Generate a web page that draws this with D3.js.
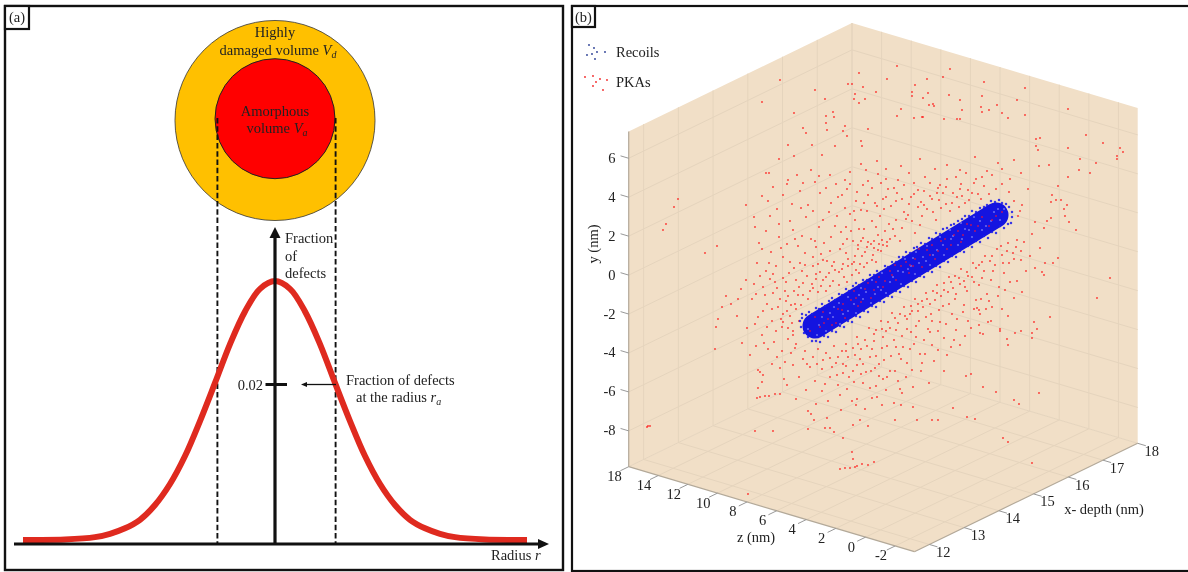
<!DOCTYPE html>
<html><head><meta charset="utf-8">
<script src="https://cdn.jsdelivr.net/npm/d3@7/dist/d3.min.js"></script>
<style>html,body{margin:0;padding:0;background:#fff}svg{display:block;filter:blur(.35px)}text{font-family:"Liberation Serif",serif;font-size:14.5px;fill:#222}</style>
</head><body><svg id="c" width="1188" height="572"></svg>
<script>
// Panel (a): defect fraction versus radius (r in units of the curve's width)
const curveRadius=[-4.2,-4,-3.5,-3,-2.75,-2.5,-2.25,-2,-1.75,-1.5,-1.25,-1,-.75,-.5,-.25,0,.25,.5,.75,1,1.25,1.5,1.75,2,2.25,2.5,2.75,3,3.5,4,4.2];
const curveFraction=[0,.00001,.00007,.00037,.0008,.0015,.0026,.0045,.0072,.0108,.0153,.0202,.0252,.0294,.0323,.0333,.0323,.0294,.0252,.0202,.0153,.0108,.0072,.0045,.0026,.0015,.0008,.00037,.00007,.00001,0];
const amorphousRadius=1;
const damagedRadius=1.667;
const guideRadii=[-.96,1.01];
// Panel (b): axis ticks
const yTicks=[6,4,2,0,-2,-4,-6,-8];
const zTicks=[16,14,12,10,8,6,4,2,0,-2];
const zTickLabels=["18","14","12","10","8","6","4","2","0","-2"];
const xTicks=[12,13,14,15,16,17,18];
// Recoil track centre line, in projected view coordinates
const recoilTrack=[[-3.7,-5.1],[14.4,6]];
// Legend samples, same view coordinates
const legendRecoils=[[-26.3,23],[-25.8,22.7],[-25.5,22.3],[-24.7,22.3],[-26,22.1],[-26.5,22],[-25.7,21.6]];
const legendPkas=[[-26.7,19.8],[-25.9,19.9],[-25.2,19.6],[-24.5,19.5],[-25.6,19.3],[-25.9,18.9],[-24.9,18.5]];
// Recoils along the tube outline
const recoilEdge=[[-4.6,-4],[-4.3,-3.7],[-4,-3.9],[-3.6,-3.3],[-3.3,-3.4],[-3,-2.9],[-2.7,-3.1],[-2.3,-2.6],[-2,-2.3],[-1.7,-2.5],[-1.3,-1.9],[-1,-2],[-.6,-1.4],[-.3,-1.6],[.1,-1.1],[.4,-.8],[.7,-1],[1.1,-.5],[1.5,-.5],[1.8,0],[2.2,0],[2.5,.4],[2.9,.3],[3.3,.9],[3.6,.8],[4,1.3],[4.4,1.3],[4.7,1.8],[5.1,1.8],[5.4,2.3],[5.8,2.2],[6.2,2.7],[6.5,2.8],[6.9,3.2],[7.3,3.1],[7.7,3.7],[8,3.6],[8.4,4.2],[8.8,4.1],[9.1,4.6],[9.5,4.7],[9.9,5],[10.2,5.1],[10.6,5.4],[11,5.6],[11.3,5.9],[11.7,5.9],[12,6.4],[12.4,6.3],[12.8,6.7],[13.2,6.8],[13.5,7],[13.9,7.4],[14.3,7.3],[14.7,7.5],[15,7.2],[15.4,7.1],[15.7,6.8],[16,6.3],[16,5.8],[15.9,5.2],
[15.6,5.1],[15.2,4.7],[14.8,4.9],[14.4,4.2],[14,4.3],[13.6,3.7],[13.2,3.9],[12.8,3.3],[12.4,3.4],[12,2.8],[11.6,2.9],[11.2,2.3],[10.8,2.4],[10.4,1.8],[10,1.9],[9.6,1.3],[9.2,1.4],[8.8,.8],[8.4,.9],[8,.3],[7.6,.4],[7.2,-.2],[6.8,-.1],[6.4,-.7],[6,-.6],[5.6,-1.2],[5.2,-1.1],[4.8,-1.7],[4.4,-1.6],[4,-2.2],[3.6,-2.1],[3.2,-2.7],[2.8,-2.6],[2.4,-3.2],[2,-3.1],[1.6,-3.7],[1.2,-3.6],[.8,-4.2],[.4,-4.1],[0,-4.7],[-.4,-4.6],[-.8,-5.2],[-1.2,-5.1],[-1.6,-5.7],[-2,-5.6],[-2.4,-6.2],[-2.8,-6.1],[-3.2,-6.7],[-3.6,-6.6],[-4,-6.6],[-4.4,-6.2],[-4.8,-5.8],[-5.1,-5.2],[-5.2,-4.6],[-5,-4.3],[-5,-3.9]];
// Lighter recoils that show through the dense tube
const recoilLight=[[-3.5,-6],[-2.6,-5.6],[-1.9,-4.2],[-1.2,-4.9],[-.4,-3.6],[.4,-3.8],[1.1,-2.4],[1.9,-2.8],[2.6,-1.2],[3.4,-1.8],[4.1,-.2],[4.9,-.9],[5.6,.6],[6.3,.1],[7.1,1.8],[7.8,1],[8.5,2.5],[9.2,2],[9.9,3.6],[10.6,3],[11.3,4.6],[12,3.8],[12.8,5.4],[13.4,4.9],[14.2,6.3],[14.8,5.5],[15.2,6.6],[-4.4,-5.4],[-3,-4.2],[.9,-1.3],[3,.2],[5.3,1.6],[7.5,2.9],[9.8,4.5],[12.2,5.8],[-1.3,-2.8],[2,-.5],[6.4,2.3],[10.9,5.2],[-.4,-2.2],
[5.1,.3],[5.9,.9],[6.7,1.2],[7.4,1.4],[8.1,2],[3.8,-.7],[4.6,.4],[2.3,-1.9],[1.4,-1.7],[.2,-2.9],[-2.2,-3.8],[-3.3,-5],[9.1,3],[10.1,3.9],[11.7,4.5],[13,4.5],[13.9,5.4],[14.6,6.6],[-1.8,-3.2],[-.9,-3.9],[.7,-2],[2.9,-1.5],[6.1,1.7],[8.8,3.8],[11,3.6]];
// Primary knock-on atoms, projected view coordinates
const pkaPoints=[
[-7.2,19.5],[-3.7,18.5],[-.4,19.1],[0,19.1],[.7,20.2],[1.1,18.8],[.3,18.1],[.2,17.6],[1.3,17.6],[.7,17.2],[2.4,18.3],[-2.7,17.6],[-5.8,16.2],[-1.9,16.3],[-1.8,15.8],[-2.6,15.9],[-2.6,15.2],[-4.9,14.7],[-4.6,14.2],[-2.5,14.5],[-.7,14.9],[-.9,14.4],[-.5,13.9],[1.6,14.6],[.9,13.4],[1,12.9],
[-18.9,4.5],[-18.6,5.1],[-17.8,6.8],[-17.4,7.6],[-14.7,2.2],[-13.5,2.9],[-20.5,-15.2],[-20.2,-15.1],[-20.4,-15.1],[-10.4,-21.9],
[-9.5,-12.3],[-9.2,-12.2],[-8.7,-12.1],[-8.3,-12.1],[-7.7,-11.9],[-7.2,-11.9],[-9.4,-11.3],[-9,-10.7],[-9.4,-9.5],[-9.2,-9.7],[-13.7,-7.4],[-13.6,-5.2],[-13.4,-4.4],[-13,-3.2],[-12.1,-2.9],[-12.6,-2.1],[-11.4,-2.4],[-11.1,-1.4],[-10.6,-.5],[-9.8,-.9],
[-4.4,-13.6],[-4.1,-13.9],[-3.8,-14.5],[-2.5,-14.3],[-4.4,-15.4],[-2.7,-15.3],[-2.2,-15.3],[-1.8,-15.7],[-.9,-16.3],[-9.7,-15.6],[-7.9,-15.6],[0,-17.7],[.1,-18.4],[.3,-19.2],[-1.2,-19.4],[-.7,-19.3],[-.2,-19.3],[.5,-19.1],[1,-18.9],[1.6,-19],[2.2,-18.7],[.1,-15],[.8,-14.5],[1.6,-15.1],[-1.2,-12],[0,-12.6],[.5,-12.4],[2,-12.3],[2.5,-12.2],[1.8,-11.3],
[24.5,-2.3],[19.8,-4.2],[18.2,-4.7],[18.5,-5.4],[18,-5.8],[18,-6.3],[16.9,-5.6],[16.3,-5.8],[15.5,-6.4],[15.6,-7],[14.8,-5.4],[14.8,-5.6],[13.1,-5.9],[12.8,-5.8],[12.5,-3.3],[12.7,-3.5],[13.6,-4.7],[13.9,-4.6],[18.7,-11.8],[16.2,-12.5],[16.7,-12.9],[14.4,-11.7],[13.1,-11.2],[11.4,-10.1],[11.9,-9.9],[5,-11.8],[4.2,-12.8],[4.9,-13],[6.1,-13.2],[10.1,-13.3],[11.5,-14.2],[12.3,-14.4],[4.3,-14.5],[6.5,-14.5],[8,-14.5],[8.6,-14.5],[15.1,-16.3],[15.6,-16.7],[18,-18.8],
[4.5,20.9],[3.5,19.6],[7.5,19.6],[9.8,20.6],[9.1,19.8],[13.2,19.3],[17.3,18.7],[21.6,16.6],[16.5,17.5],[13,17.9],[10.8,17.5],[9.7,18],[7.6,18.2],[6.3,19],[6,18.3],[6,17.9],[7.1,17.7],[7.7,17],[8.1,17.1],[8.2,16.9],[4.9,16.6],[4.5,15.9],[7,15.8],[7.1,15.8],[6.2,15.7],[9.2,15.6],[10.5,15.6],[10.8,15.6],[12.9,16.8],[13.7,16.5],[13,16.3],[14.5,17],[15,16.2],[15.6,15.7],[17.3,16],[11,16.5],
[23.4,14],[25.1,13.2],[26.8,12.7],[27.1,12.3],[26.5,11.9],[26.5,11.6],[21.6,12.7],[22.8,11.6],[24.4,11.2],[22.7,10.5],[23.8,10.2],[21.6,9.8],[19.7,11],[18.7,10.9],[20.6,8.9],[18.4,13.6],[18.8,13.7],[18.4,12.9],[18.6,12.5],[20,8],[20.4,7.5],[20.9,7.5],[19.9,7.3],[21.2,6.6],[21.5,7],[21.3,5.9],[21.7,5.3],[22.4,4.5],[18.3,5.3],[19.5,5.4],[19.9,5.7],[19.2,4.7],[20.6,1.7],[19.3,1.2],[20.1,1.2],[18.3,.7],[19,.3],[19.2,0],[25.8,-.3],
[-9,17.3],[-6.4,13],[-4,13],[-1.7,12.9],[-3,12],[-5.8,11.9],[-7.3,11.6],[-8.6,10.2],[-8.3,10.2],[-6.4,9.5],[-4.1,10.5],[-2.2,10],[-3.7,9.3],[-.7,9.5],[-.2,10.3],[.9,11.1],[2.5,11.4],[1.4,10.5],[3.4,10.6],[4.9,10.9],[6.8,11.6],[8.3,10.6],[9.5,11],[7.3,9.8],[10.8,10.5],[12.3,11.8],[13.5,10.4],[14.6,11.2],[16.2,11.5],[16.9,10.2],[15.8,9.6],[17.6,8.6],[12.4,9.6],[10.4,9.8],[8.8,9],[6.2,9.2],[4.6,9.5],[2.9,9.2],[1.6,9.4],[-.5,8.6],[-3.2,8.2],[-5.2,8.4],[-6.9,8],[-8.4,7.4],[-10.6,7],[-9.8,5.8],[-7.5,6.6],[-6.2,5.4],[-4.4,7],[-2.1,7.2],
[-9.7,4.8],[-9.3,3.2],[-8.6,4.4],[-7.3,3.8],[-5.9,4.5],[-4.6,5.8],[-3.3,4.8],[-1.5,5.9],[.4,7.4],[1.6,8],[3.1,7.6],[4.5,8.2],[5.9,7.8],[7.2,8.4],[8.7,7.5],[10.1,8.2],[11.6,8.5],[13.2,8.9],[14.4,8.6],[15.7,8.3],[17,7],[16.6,5.9],[18,4.1],[17.2,3.3],[18.8,2.7],[16.4,2.8],[16.9,1.5],[15.7,1.2],[17.4,.4],[15.2,.2],
[-8.1,2.3],[-6.9,1.8],[-5.4,2.9],[-4.1,3.6],[-2.8,3.2],[-1.1,4.3],[.3,5.5],[1.5,6.4],[2.8,5.9],[3.9,6.9],[5.2,6.3],[6.6,6.8],[8.1,6.3],[9.4,7.1],[-9.5,1.2],[-8.6,.4],[-7.6,.9],[-6.3,.2],[-5.2,1.2],[-3.9,1.8],[-2.5,1.4],[-1.2,2.6],[.1,3.4],[1.2,4.6],[2.6,4],[3.7,5.1],[5,4.7],[6,5.4],[7,5.9],[-.5,3.6],
[-8.9,-1.2],[-7.7,-.7],[-6.7,-1.6],[-5.6,-.5],[-4.5,-.1],[-3.2,.3],[-2,.9],[-.9,1.1],[.3,1.9],[1.5,2.8],[2.6,2.5],[3.8,3.6],[-10,-2.4],[-8.5,-2.9],[-7.2,-2.4],[-6.1,-3],[-5.4,-2],[-4.2,-1.6],[-3.1,-1.1],[-1.9,-.6],[-.8,-.2],[.4,.5],[1.5,1.2],[-9.4,-4.2],[-8,-4.6],[-6.9,-3.9],[-6,-4.8],[-5.6,-3.4],[-7.6,-5.6],[-9,-6],[-6.4,-6.4],[-10.5,-5.3],[-11.5,-4.1],[-8.4,-7.4],[-7,-7.6],[-5.7,-7.3],[-10.2,-8],[-11,-6.8],
[-4.7,-7.6],[-3.9,-8.2],[-2.6,-7.8],[-1.8,-7.1],[-.6,-6.9],[.5,-6.2],[1.7,-5.3],[2.9,-4.6],[4,-3.8],[5.2,-3.2],[6.3,-2.4],[7.4,-1.8],[8.5,-1],[9.7,-.2],[10.9,.6],[12.1,1.2],[13.3,1.9],[14.5,2.6],[15.6,3.2],
[-4.2,-9.2],[-3,-9.4],[-1.6,-8.8],[-.4,-8.2],[.9,-7.4],[2.2,-6.6],[3.4,-5.6],[4.6,-4.8],[5.8,-3.9],[7.1,-3.2],[8.3,-2.5],[9.6,-1.7],[10.8,-.9],[12,-.2],[13.2,.4],[14.3,1],[-5.9,-9],[-7.2,-9.3],[-5.3,-10.2],[-3.7,-10.6],[-2.2,-10.2],[-.9,-9.8],[.5,-9],[1.8,-8.2],[3,-7.3],[4.2,-6.5],[5.5,-5.4],[6.7,-4.6],[7.9,-3.9],[9.1,-3.1],[10.3,-2.4],[11.5,-1.6],[12.7,-1],[13.9,-.5],
[-6.5,-11],[-4.6,-11.5],[-3,-11.6],[-1.4,-11],[.2,-10.7],[1.4,-9.7],[2.7,-8.9],[3.9,-8.1],[5.1,-7.2],[6.4,-6.2],[7.6,-5.4],[8.8,-4.7],[10,-3.9],[11.2,-3],[12.4,-2.5],[13.5,-1.9],[14.7,-1.2],[15.8,-.7],
[3.1,-10.4],[4.3,-9.6],[5.5,-8.8],[6.8,-7.9],[8,-7],[9.2,-6.3],[10.4,-5.5],[11.6,-4.6],[12.8,-3.9],[14,-3.2],[3.4,-11.5],[5.4,-10.2],[6.9,-9.6],[8.2,-8.6],[9.5,-8],[10.8,-7],[7.7,-10.8],[9.2,-9.6],[4.8,-11.4],[6.1,-11.2],
[-7.9,.1],[-6.6,-.7],[-5,.4],[-3.6,-.4],[-2.6,-.2],[-1.3,.3],[0,1.1],[1,1.9],[2.1,2],[3.1,3],[4.3,3.9],[-3.9,.9],[-2.2,2.4],[-.6,2.2],[.9,3.4],[2.2,3.4],[3.3,4.4],[4.4,5.5],[5.6,6],[6.9,7.3],[8,7.6],[9.1,8.2],[10.5,7.8],[11.7,7.5],[12.6,8.1],[-6.5,3.1],[-5,3.9],[-3.6,2.8],[-2.1,3.8],[-.6,4.8],[.7,4.6],[2,5.4],[3.2,6.6],[4.4,7.4],[5.7,7.1],[7.2,7],[8.6,8.7],[10,7.2],[11,7.9],[12.2,9.2],[-.2,6.1],[-1.4,7.8],[.9,6.5],[2.3,7.2],[3.6,8.6],
[-5.3,-4.6],[-5.9,-5.6],[-6.9,-4.7],[-5.6,-6.9],[-4.9,-8.4],[-3.4,-7.4],[-2.2,-8.3],[-1,-7.6],[.1,-7.3],[1.3,-6.5],[2.4,-5.5],[3.6,-4.7],[4.8,-3.9],[5.9,-3.1],[7,-2.6],[8.1,-1.6],[9.2,-.8],[10.3,-.1],[11.5,.3],[12.7,1],[13.8,1.4],[15,2],[16.1,2.2],[-.9,-8.9],[.8,-8.4],[2,-7.4],[3.1,-6.2],[4.4,-5.5],[5.5,-4.4],[6.6,-3.6],[7.8,-2.9],[8.9,-2.1],[10.1,-1.3],[11.2,-.6],
[.4,-13],[1.3,-13.4],[3,-13],[-.5,-11.4],[1.1,-10.8],[2.4,-11.1],[-2.4,-12.6],[-3.6,-12.9],[-5.6,-12.4],[-6.8,-10.4],[-8,-8.9],[-8.9,-10],[-1.1,-13.5],[1.9,-9.6],[3.8,-9.6],[4.9,-8.4]
];
// Further knock-ons in the dense cloud around the tube
const pkaDense=[
[-2.3,6.3],[-1.7,4.9],[-.9,3.1],[-.1,4.4],[.6,2.6],[1.1,3.7],[1.9,3.1],[2.4,4.8],[3,3.5],[3.5,2.9],[4.1,4.6],[4.8,3.4],[5.4,5.6],[6.3,4.2],[6.8,5],[7.5,6.6],[8.4,5.5],[8.9,6.7],[9.8,6.4],[10.7,6.8],[11.3,7.2],[12.9,7.6],[13.7,8.1],[15,9.1],[16.2,7.4],[16.8,6.4],[-3.1,2.1],[-3.7,3.4],[-4.7,2.2],[-5.7,3.6],[-6.2,1.3],[-7.1,2.7],[-8.3,1.2],[-9,2.6],[-2.9,5.5],[-3.9,6.4],[-5.1,6.7],[-6,7.1],[-7.3,5.1],[-8.2,5.9],[-9,7.9],[-7.9,8.8],[-6.5,9.1],[-5.5,10],[-4.9,9.2],[-3.3,9.9],[-2.6,8.7],[-1.6,9.1],[-1,8],[-.2,9.1],[.5,8.3],[1.1,9],[2,8.7],[2.6,10.1],[3.4,9.6],[4.2,8.7],[5.2,9],[5.7,10.2],[6.6,8.5],[7.8,9.2],[8.5,8.2],[9.5,9.6],[10.9,9.1],[11.4,10.2],[13,9.8],[14,10],[15,10.6],[-.7,6.7],[.2,6.4],[1.2,7.2],[2.5,6.9],[3.4,7.8],[5,7.6],[6.2,8.1],[7.8,7.9],[9.4,8.8],[10.8,8.6],[12,8.2],
[-7.5,-1.3],[-6.4,-2.1],[-5.3,-1.2],[-4.9,-.8],[-4,-.9],[-3.6,.1],[-2.9,-.5],[-2.3,.2],[-1.7,.5],[-1,.6],[-.4,.9],[.2,1.3],[.8,1.1],[1.3,2.3],[2.2,2.7],[2.9,2.4],[3.5,3.3],[-6.9,-.3],[-5.8,.7],[-4.7,1],[-3.4,1.1],[-2.9,1.5],[-1.8,1.3],[-.4,1.6],[.6,3],[1.6,3.3],[2.7,3.1],[-8.2,-.4],[-9.2,-.1],[-9.6,-1.9],[-8.7,-2],[-7.9,-1.8],[-7.4,-3.2],[-6.6,-2.6],[-5.8,-1.6],[-4.9,-2],[-4.4,-2.4],[-3.9,-1.3],[-3.4,-1.7],[-2.6,-1.6],[-2.2,-1.1],[-1.3,-1],[-.5,-.7],[0,0],[.7,.2],[1.2,.8],[2,1.5],[2.4,1.3],[-8.9,-3.6],[-8,-3.4],[-7.1,-4.4],[-6.5,-3.6],[-5.7,-2.9],[-5.1,-3],[-6.4,-5.3],[-7,-5.2],[-8.5,-5.2],[-7.8,-6.7],[-9.7,-4.9],[-8.8,-6.8],[-6.1,-7.8],[-7.5,-8.2],[-6.7,-8.7],[-9.6,-7.1],[-5.9,-6],[-6.2,-4.1],
[-3.5,-8.9],[-2.9,-8.5],[-2,-9.2],[-1.4,-8.2],[-.6,-7.6],[.3,-8],[.6,-6.9],[1.5,-7.1],[2.2,-5.9],[3,-5.4],[3.8,-5.3],[4.3,-4.3],[5.3,-4.1],[6,-3.6],[6.6,-2.9],[7.5,-2.4],[8.5,-1.8],[9.2,-1.5],[9.9,-.7],[10.7,-.3],[11.6,-.1],[12.4,.7],[13,1.3],[14,1.9],[14.9,2.9],[15.5,2.4],[16.5,3.5],[-4.5,-8.9],[-2.7,-10.9],[-1.5,-10],[-.6,-9.1],[.1,-9.6],[1.1,-8.9],[2.4,-8.1],[3.5,-7.1],[4.4,-7.2],[5,-6.1],[5.9,-5.7],[6.4,-5.1],[7.4,-4.2],[8,-4.6],[8.7,-3.5],[9.7,-2.9],[10.4,-1.9],[11.3,-1.2],[12.2,-.7],[13,-.3],[14.1,.4],[15.1,1.2],[16.2,1.6],[16.9,2.4],[17.8,1.9],[-.3,-10.2],[.9,-9.9],[2.3,-9.3],[3.2,-8.5],[4.7,-7.9],[5.8,-7.4],[6.2,-6.9],[7.2,-6.5],[7.8,-5.7],[8.6,-5.6],[9.4,-4.9],[10.5,-4.4],[11.1,-3.7],[12.2,-3.4],[12.9,-2.4],[13.7,-2.6],[14.6,-2.1],[15.3,-1.5],[16.5,-.6],[17,-1.7],[16.2,-2.3],[15,-3.4],[15.6,-4.1],[13.4,-3.4],[11.9,-5.3],[12.7,-5],[10.2,-6.5],[9.9,-7.2],[11.3,-6.1],[8.6,-7.5],[7.3,-7.9],[7,-8.8],[6,-9.5],[4.6,-10.6],[3.5,-10.2],[2.7,-10.1]
];
// Knock-ons seen through the tube
const pkaInTube=[[-4.2,-5.6],[-3.2,-5.2],[-2.9,-3.7],[-2,-5],[-1.4,-3.4],[-.7,-4.3],[-.1,-2.5],[.6,-3.1],[1.3,-1.4],[1.9,-2.3],[2.4,-.7],[3.1,-1.2],[3.8,.4],[4.4,-.5],[4.9,.9],[5.7,.2],[6.3,1.6],[7,.8],[7.5,2.5],[8.3,1.6],[8.9,3.4],[9.5,2.6],[10.2,4],[10.9,3.3],[11.5,5.1],[12.3,4.4],[13,5.8],[13.7,4.9],[14.4,5.9],[15,6.3],[-3.7,-4.2],[-2.4,-4.4],[-.9,-2.9],[.2,-1.6],[1.6,-.8],[2.7,-.2],[4.3,1],[5.4,1.3],[6.7,2.6],[8,3],[9.3,3.6],[10.6,4.4],[11.9,5],[-1.6,-4.8],[.9,-2.7],[3.3,-.6],[5.8,1],[8.6,2.4],[11.1,4],[-2.8,-4.8],[-1,-3.5],[.4,-2.3],[2.2,-1.5],[4,0],[6.1,.9],[7.8,2],[9.9,3],[12.6,4.9],[14,5.5]];

const vw=d3.select('#c'),ink='#111';
function path(s,pts,a){const p=s.append('path').attr('d','M'+pts.map(q=>q.join(',')).join('L')+'Z');Object.entries(a).forEach(([k,v])=>p.attr(k,v));return p}
function txt(s,x,y,t,a={}){const e=s.append('text').attr('x',x).attr('y',y).text(t);Object.entries(a).forEach(([k,v])=>e.attr(k,v));return e}

// ---------- panel a
const A=vw.append('g');
A.append('rect').attr('x',5).attr('y',6).attr('width',558).attr('height',564).attr('fill','#fff').attr('stroke',ink).attr('stroke-width',2.4);
A.append('rect').attr('x',5).attr('y',6).attr('width',24).attr('height',23).attr('fill','#fff').attr('stroke',ink).attr('stroke-width',2.2);
txt(A,9,22,'(a)');
const rX=d3.scaleLinear().domain([-4.2,4.2]).range([23,527]);
const fY=d3.scaleLinear().domain([0,.02]).range([540,384.5]);
A.append('circle').attr('cx',rX(0)).attr('cy',120.5).attr('r',rX(damagedRadius)-rX(0)).attr('fill','#FFC000').attr('stroke','#333').attr('stroke-width',.8);
A.append('circle').attr('cx',rX(0)).attr('cy',118.7).attr('r',rX(amorphousRadius)-rX(0)).attr('fill','#FF0000').attr('stroke','#222').attr('stroke-width',1);
txt(A,275,37,'Highly',{'text-anchor':'middle'});
let t=txt(A,278,55,'damaged volume ',{'text-anchor':'middle'});
t.append('tspan').attr('font-style','italic').text('V');t.append('tspan').attr('font-style','italic').attr('font-size',10).attr('dy',3).text('d');
txt(A,275,116,'Amorphous',{'text-anchor':'middle'});
t=txt(A,277,133,'volume ',{'text-anchor':'middle'});
t.append('tspan').attr('font-style','italic').text('V');t.append('tspan').attr('font-style','italic').attr('font-size',10).attr('dy',3).text('a');
guideRadii.forEach(r=>A.append('line').attr('x1',rX(r)).attr('x2',rX(r)).attr('y1',118).attr('y2',543).attr('stroke',ink).attr('stroke-width',1.9).attr('stroke-dasharray','5.5,2.8'));
A.append('path').datum(d3.zip(curveRadius,curveFraction)).attr('fill','none').attr('stroke','#DF2A1F').attr('stroke-width',6)
 .attr('d',d3.line().x(d=>rX(d[0])).y(d=>fY(d[1])).curve(d3.curveCatmullRom));
A.append('line').attr('x1',rX(0)).attr('x2',rX(0)).attr('y1',544).attr('y2',236).attr('stroke',ink).attr('stroke-width',3.2);
path(A,[[rX(0),227],[rX(0)+5.5,238],[rX(0)-5.5,238]],{fill:ink});
A.append('line').attr('x1',14).attr('x2',540).attr('y1',544).attr('y2',544).attr('stroke',ink).attr('stroke-width',3);
path(A,[[549,544],[538,539],[538,549]],{fill:ink});
A.append('line').attr('x1',265.5).attr('x2',287).attr('y1',fY(.02)).attr('y2',fY(.02)).attr('stroke',ink).attr('stroke-width',3);
txt(A,263,389.5,'0.02',{'text-anchor':'end'});
A.append('line').attr('x1',336).attr('x2',306).attr('y1',fY(.02)).attr('y2',fY(.02)).attr('stroke',ink).attr('stroke-width',1.3);
path(A,[[301,fY(.02)],[307,fY(.02)-2.5],[307,fY(.02)+2.5]],{fill:ink});
txt(A,285,243,'Fraction');txt(A,285,260.5,'of');txt(A,285,278,'defects');
txt(A,346,385,'Fraction of defects');
t=txt(A,356,402,'at the radius  ');
t.append('tspan').attr('font-style','italic').text('r');t.append('tspan').attr('font-style','italic').attr('font-size',10).attr('dy',3).text('a');
t=txt(A,491,560,'Radius ');t.append('tspan').attr('font-style','italic').text('r');

// ---------- panel b
const B=vw.append('g');
B.append('rect').attr('x',572).attr('y',6).attr('width',640).attr('height',565).attr('fill','#fff').attr('stroke',ink).attr('stroke-width',2.2);
B.append('rect').attr('x',572).attr('y',6).attr('width',23).attr('height',21).attr('fill','#fff').attr('stroke',ink).attr('stroke-width',2.2);
txt(B,575,22,'(b)');
const xMin=11.57,xMax=18,zMax=16,zMin=-3.3,yMin=-9.84,yMax=7.38;
const pxX=d3.scaleLinear().domain([xMax,xMin]).range([852,628.7]);
const pxY=d3.scaleLinear().domain([xMax,xMin]).range([0,108.4]);
const pzX=d3.scaleLinear().domain([zMax,zMin]).range([0,285.7]);
const pzY=d3.scaleLinear().domain([zMax,zMin]).range([0,85]);
const pyY=d3.scaleLinear().domain([yMin,yMax]).range([358.3,23]);
const P=(x,y,z)=>[pxX(x)+pzX(z),pyY(y)+pxY(x)+pzY(z)];
const wall='#F1DFC7',grid='#E5D4BD',edge='#B3A999';
path(B,[P(xMin,yMin,zMax),P(xMin,yMax,zMax),P(xMax,yMax,zMax),P(xMax,yMin,zMax)],{fill:wall});
path(B,[P(xMax,yMin,zMax),P(xMax,yMax,zMax),P(xMax,yMax,zMin),P(xMax,yMin,zMin)],{fill:wall});
path(B,[P(xMin,yMin,zMax),P(xMax,yMin,zMax),P(xMax,yMin,zMin),P(xMin,yMin,zMin)],{fill:wall});
const seg=(a,b,c,w)=>B.append('line').attr('x1',a[0]).attr('y1',a[1]).attr('x2',b[0]).attr('y2',b[1]).attr('stroke',c).attr('stroke-width',w);
xTicks.forEach(x=>{seg(P(x,yMin,zMax),P(x,yMax,zMax),grid,1);seg(P(x,yMin,zMax),P(x,yMin,zMin),grid,1)});
zTicks.forEach(z=>{seg(P(xMax,yMin,z),P(xMax,yMax,z),grid,1);seg(P(xMin,yMin,z),P(xMax,yMin,z),grid,1)});
yTicks.forEach(y=>{seg(P(xMin,y,zMax),P(xMax,y,zMax),grid,1);seg(P(xMax,y,zMax),P(xMax,y,zMin),grid,1)});
seg(P(xMin,yMin,zMax),P(xMin,yMax,zMax),edge,1.2);
seg(P(xMin,yMin,zMax),P(xMin,yMin,zMin),edge,1.2);
seg(P(xMin,yMin,zMin),P(xMax,yMin,zMin),edge,1.2);
yTicks.forEach(y=>{const a=P(xMin,y,zMax);seg(a,P(xMin,y,zMax+.55),'#999',1);txt(B,615.5,a[1]+4.5,y,{'text-anchor':'end'})});
zTicks.forEach((z,i)=>{const a=P(xMin,yMin,z);seg(a,P(xMin-.24,yMin,z),'#999',1);txt(B,a[0]-14.2,a[1]+14.5,zTickLabels[i],{'text-anchor':'middle'})});
xTicks.forEach(x=>{const a=P(x,yMin,zMin);seg(a,P(x,yMin,zMin-.55),'#999',1);txt(B,a[0]+14,a[1]+12.5,x,{'text-anchor':'middle'})});
txt(B,0,0,'y (nm)',{'text-anchor':'middle',transform:'translate(598,244) rotate(-90)'});
txt(B,756,542,'z (nm)',{'text-anchor':'middle'});
txt(B,1104,514,'x- depth (nm)',{'text-anchor':'middle'});
txt(B,616,56.5,'Recoils');txt(B,616,86.5,'PKAs');

// view coordinates of the projected cloud
const vh=d3.scaleLinear().domain([-10,10]).range([752,952]);
const vv=d3.scaleLinear().domain([-10,10]).range([375,175]);
const dots=(g,data,r,c,o)=>g.selectAll(null).data(data).join('circle').attr('cx',d=>vh(d[0])).attr('cy',d=>vv(d[1])).attr('r',r).attr('fill',c).attr('fill-opacity',o);
const C=B.append('g');
dots(C,legendRecoils,.9,'#1a2f8c',.95);
dots(C,legendPkas,.9,'#f01818',.95);
dots(C.append('g'),pkaPoints,1.05,'#ff1414',.72);
dots(C.append('g'),pkaDense,1.05,'#ff1414',.72);
C.append('path').datum(recoilTrack).attr('fill','none').attr('stroke','#1414E0').attr('stroke-width',25).attr('stroke-linecap','round')
 .attr('d',d3.line().x(d=>vh(d[0])).y(d=>vv(d[1])));
dots(C.append('g'),recoilEdge,1.25,'#1a1aea',.85);
dots(C.append('g'),recoilLight,1.1,'#7c7cf2',.8);
dots(C.append('g'),pkaInTube,1,'#e81040',.75);
</script></body></html>
